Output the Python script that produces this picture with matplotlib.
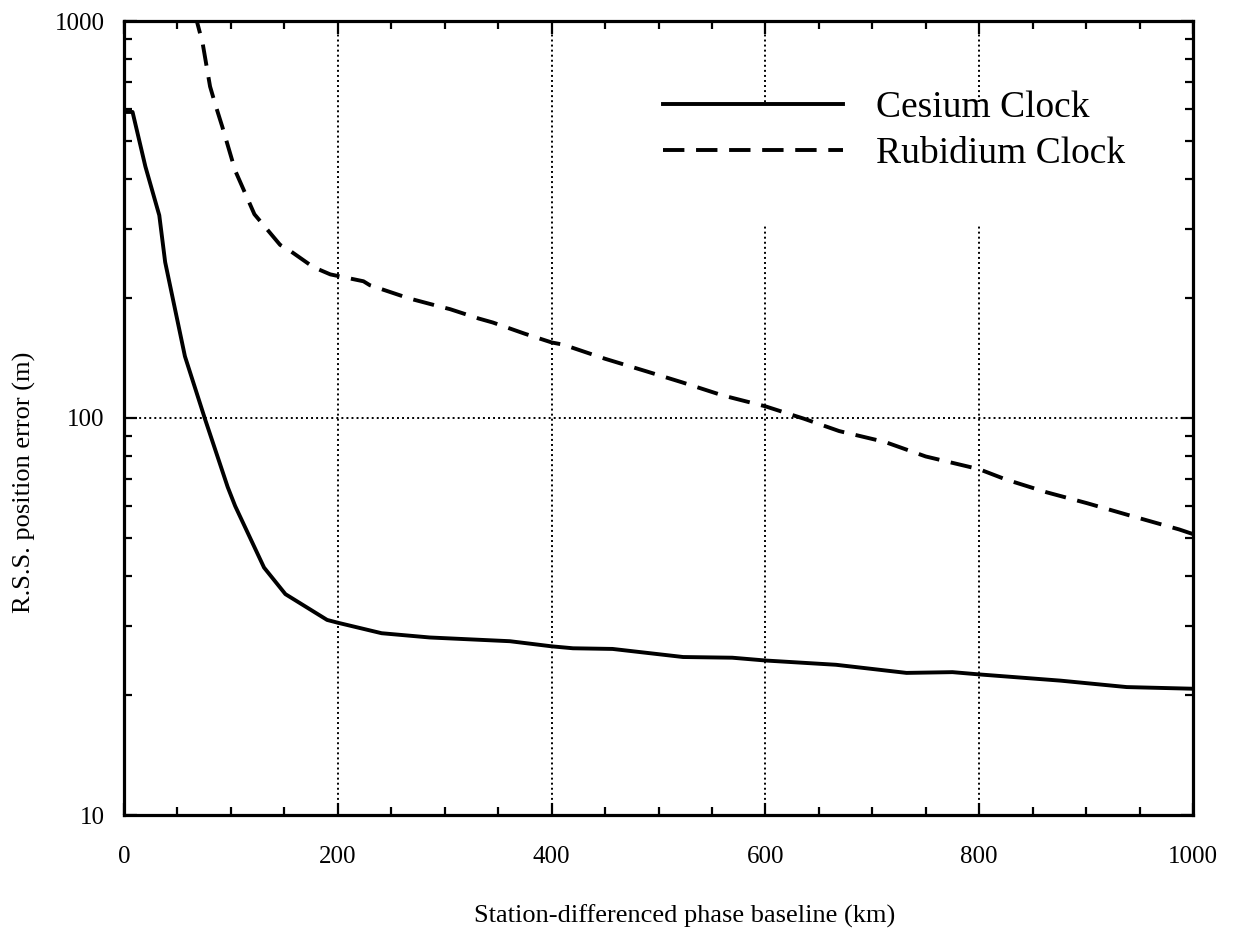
import numpy as np
import matplotlib.pyplot as plt
from matplotlib.patches import Rectangle
from matplotlib.ticker import MultipleLocator, LogLocator, NullFormatter, FixedLocator

plt.rcParams['font.family'] = ['Liberation Serif', 'DejaVu Serif']

# Cesium clock
cesium_x = [1, 8, 20, 33, 38.5, 57, 76, 97, 104, 131, 151, 190, 200, 241, 286,
            361, 400, 420, 457, 523, 569, 600, 666, 732, 775, 800, 876, 938, 1000]
cesium_y = [590, 590, 430, 324, 247, 143, 99, 67, 60, 42, 36, 31, 30.5, 28.7, 28,
            27.4, 26.6, 26.3, 26.2, 25, 24.9, 24.5, 23.9, 22.8, 22.9, 22.6, 21.8, 21, 20.8]

# Rubidium clock
rubidium_x = [66, 73.5, 80.5, 86, 92, 104, 122, 146, 156, 177, 193, 224, 230, 267,
              295, 305, 332, 345, 375, 400, 411, 450, 489, 522, 560, 600, 636, 669,
              712, 750, 800, 825, 863, 901, 939, 987, 1000]
rubidium_y = [1050, 881, 684, 609, 541, 420, 326, 273, 263, 240, 230, 221, 216, 200,
              191, 188, 178, 174, 163, 155, 153, 141, 131, 123, 114, 107, 99.6, 92.7,
              87, 80, 74.3, 70, 65, 61, 57, 52.4, 51]

x_major = [0, 200, 400, 600, 800, 1000]
y_major = [10, 100, 1000]

fig = plt.figure(figsize=(12.39, 9.32), dpi=100)
ax = fig.add_axes([124 / 1239, 1 - 815 / 932, 1069 / 1239, 794 / 932])

ax.plot(cesium_x, cesium_y, color='black', lw=2.8, label='Cesium Clock', zorder=3)
ax.plot(rubidium_x, rubidium_y, color='black', lw=2.8, dashes=(5.5, 3),
        label='Rubidium Clock', zorder=3)

ax.set_yscale('log')
ax.set_xlim(0, 1000)
ax.set_ylim(10, 1000)

ax.xaxis.set_major_locator(FixedLocator(x_major))
ax.xaxis.set_minor_locator(MultipleLocator(50))
ax.yaxis.set_major_locator(FixedLocator(y_major))
ax.yaxis.set_minor_locator(LogLocator(base=10, subs=np.arange(2, 10)))
ax.yaxis.set_minor_formatter(NullFormatter())
ax.set_yticklabels([str(v) for v in y_major])
ax.set_xticklabels([str(v) for v in x_major])

ax.tick_params(which='both', direction='in', top=True, right=True, width=1.6,
               labelsize=18)
ax.tick_params(which='major', length=9)
ax.tick_params(which='minor', length=5.5)
ax.tick_params(axis='x', which='major', pad=22)
ax.tick_params(axis='y', which='major', pad=14)

for s in ax.spines.values():
    s.set_linewidth(2.3)

# dotted grid: vertical at 200..800, horizontal at 100
for xv in [200, 400, 600, 800]:
    ax.axvline(xv, color='black', lw=1.4, ls=(0, (1, 1.6)), zorder=0.5)
ax.axhline(100, color='black', lw=1.4, ls=(0, (1, 1.6)), zorder=0.5)

# white legend area hiding the grid
ax.add_patch(Rectangle((0.492, 0.742), 0.477, 0.156, transform=ax.transAxes,
                       facecolor='white', edgecolor='none', zorder=1))

leg = ax.legend(loc='upper left', bbox_to_anchor=(644 / 1239, 1 - 72 / 932),
                bbox_transform=fig.transFigure, fontsize=27, frameon=False,
                handlelength=4.8, handletextpad=0.9, labelspacing=0.3,
                borderpad=0.5, borderaxespad=0)

fig.text(24 / 1239, 1 - 482 / 932, 'R.S.S. position error (m)', rotation=90,
         ha='center', va='center', fontsize=19)
fig.text(685 / 1239, 1 - 916 / 932, 'Station-differenced phase baseline (km)',
         ha='center', va='center', fontsize=19)

fig.savefig('out.png', dpi=100)
